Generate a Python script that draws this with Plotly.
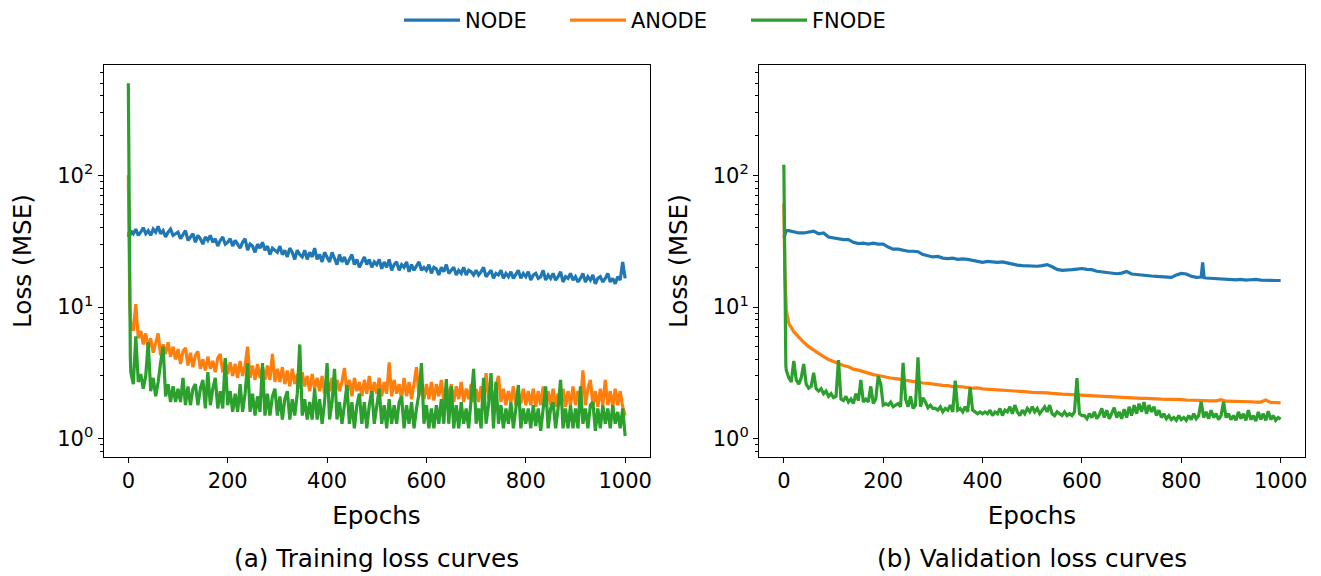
import plotly.graph_objects as go

# ---------------- data ----------------
train_epochs = [0, 1, 2, 3, 4] + list(range(5, 1001, 5))

train_node = [34, 37, 36, 38, 35,
    38, 36, 39, 35, 37, 40, 36, 38, 35, 39, 37, 41, 36, 38, 34, 37, 39, 35, 36, 37,
    33, 35, 38, 32, 34, 36, 31, 35, 33, 30, 34, 32, 35, 31, 33, 29, 32, 34, 30, 31,
    33, 29, 32, 30, 28, 31, 33, 27, 30, 29, 26, 30, 28, 31, 27, 29, 25, 28, 27, 26,
    29, 25, 27, 24, 28, 26, 23, 27, 25, 24, 27, 23, 26, 24, 28, 23, 25, 22, 26, 24,
    22, 26, 23, 21, 25, 22, 24, 21, 23, 25, 21, 23, 20, 22, 24, 21, 23, 20, 22, 21,
    23, 19.5, 22, 20, 23, 19, 21, 22, 19, 21, 20, 22, 18.5, 21, 19, 20.5, 22, 19, 20, 19,
    21, 18, 20, 19.5, 17.5, 20, 18.5, 21, 18, 19, 20, 17.5, 19, 18, 20, 17.5, 19, 18.5, 17.5, 19,
    17.5, 18.5, 20, 17, 18, 19, 16.5, 18, 17.5, 19, 16.5, 18, 17, 18.5, 16.5, 17.5, 19, 16.5, 18, 17,
    18.5, 16, 17.5, 18, 16.5, 17, 19, 16, 17.5, 16.5, 18, 16, 17, 18.5, 15.5, 17, 16.5, 18, 16, 17,
    15.5, 16.5, 18, 15.5, 17, 16, 17.5, 15, 16.5, 17, 15.5, 16.5, 18, 15.5, 16.5, 15, 17, 16, 22, 16.5]

train_anode = [100, 28, 14, 10, 8.5,
    7.5, 6.6, 10.5, 5.8, 6.6, 5.2, 6.3, 4.8, 5.8, 4.5, 5.5, 6.3, 4.3, 5.2, 4.4, 5.4, 4.2, 5.0, 4.0, 4.8,
    3.7, 4.6, 4.9, 3.6, 4.5, 3.5, 4.3, 4.6, 3.4, 4.0, 3.3, 4.2, 3.4, 3.9, 3.2, 4.1, 4.4, 3.2, 3.9, 3.1,
    3.8, 3.0, 3.7, 2.9, 3.9, 3.0, 3.6, 5.0, 2.9, 3.6, 2.8, 3.7, 2.9, 3.5, 2.8, 3.6, 2.8, 4.4, 2.7, 3.4,
    2.7, 3.5, 2.6, 3.3, 2.5, 3.4, 2.6, 3.1, 2.4, 3.2, 2.5, 3.0, 2.3, 3.1, 2.4, 2.9, 2.3, 3.0, 2.2, 2.8,
    2.3, 2.9, 2.2, 2.8, 2.3, 2.7, 3.45, 2.2, 2.8, 2.1, 2.9, 2.3, 2.7, 2.1, 2.8, 2.2, 3.0, 2.1, 2.7, 2.2,
    2.9, 2.1, 2.7, 2.2, 3.8, 2.1, 2.8, 2.2, 2.6, 2.0, 2.9, 2.1, 2.7, 2.0, 2.6, 3.5, 2.1, 2.7, 2.0, 2.6,
    2.0, 2.7, 1.95, 2.6, 2.1, 2.8, 1.9, 2.5, 2.0, 2.6, 1.9, 2.5, 2.0, 2.7, 1.9, 2.4, 2.0, 2.6, 1.9, 2.4,
    1.9, 2.5, 1.85, 3.15, 2.0, 2.4, 1.85, 2.5, 3.0, 1.9, 2.4, 1.8, 2.3, 1.9, 2.5, 1.8, 2.3, 1.85, 2.4, 1.8,
    2.3, 1.8, 2.4, 1.75, 2.3, 1.8, 2.5, 1.75, 2.3, 1.8, 2.4, 1.75, 2.2, 1.8, 2.4, 1.75, 2.3, 1.8, 2.5, 1.8,
    2.3, 1.8, 3.3, 1.8, 2.4, 2.8, 1.8, 2.3, 1.75, 2.4, 1.8, 2.8, 1.8, 2.3, 1.75, 2.4, 1.8, 2.3, 1.75, 1.5]

train_fnode = [500, 80, 18, 7, 4.2,
    3.2, 2.6, 6.0, 2.7, 3.1, 2.4, 3.0, 5.4, 2.3, 2.9, 2.1, 2.7, 3.8, 5.0, 2.1, 2.6, 1.9, 2.5, 1.9, 2.4,
    1.9, 2.9, 1.8, 2.5, 1.8, 2.4, 2.6, 1.8, 2.4, 2.8, 1.7, 3.2, 1.8, 2.4, 2.9, 1.7, 2.3, 1.7, 4.1, 1.8,
    2.3, 1.6, 2.2, 1.6, 2.6, 1.6, 2.2, 3.75, 1.6, 2.2, 1.5, 2.1, 1.6, 3.75, 1.5, 2.2, 1.5, 2.1, 2.4, 1.5,
    2.1, 1.4, 2.0, 2.3, 1.4, 2.0, 1.5, 2.2, 5.2, 1.5, 2.0, 1.4, 1.9, 1.4, 2.4, 1.4, 2.0, 1.3, 1.9, 3.75,
    1.4, 1.9, 3.4, 1.4, 1.9, 1.3, 1.8, 2.56, 1.3, 1.9, 1.2, 1.8, 2.2, 1.3, 1.9, 1.2, 1.8, 2.3, 1.3, 1.8,
    2.4, 1.3, 1.8, 1.2, 2.0, 1.3, 1.8, 1.3, 1.9, 2.1, 1.2, 1.8, 1.3, 1.9, 1.2, 1.7, 2.2, 3.75, 1.3, 1.8,
    1.2, 1.7, 1.2, 1.8, 1.3, 2.0, 1.3, 2.84, 1.3, 2.5, 1.2, 1.8, 1.2, 1.9, 1.3, 1.7, 1.2, 2.0, 3.4, 1.3,
    1.7, 1.2, 2.9, 1.3, 1.8, 3.15, 1.2, 2.7, 1.3, 1.8, 1.2, 1.7, 1.3, 1.9, 1.2, 1.7, 2.56, 1.2, 1.7, 1.3,
    1.7, 1.2, 1.8, 1.25, 1.7, 1.15, 1.8, 2.5, 1.2, 1.7, 1.9, 1.2, 1.7, 2.8, 1.2, 1.7, 1.2, 1.8, 1.2, 1.7,
    1.2, 2.5, 1.3, 1.7, 1.2, 1.8, 1.9, 1.15, 1.7, 1.2, 1.8, 1.3, 1.7, 1.2, 1.8, 1.3, 1.6, 1.2, 1.7, 1.05]

val_node_epochs = [0, 2, 5] + list(range(10, 841, 10)) + [843, 846] + list(range(850, 1001, 10))
val_node = [33.6, 36, 38,
    38, 37, 36.5, 36.5, 37, 37.7, 36, 36.5, 34, 33.5,
    33, 32.5, 32.5, 31, 30.3, 30.5, 30, 30.5, 30, 30,
    28.5, 27.5, 27.5, 27, 26.5, 26.5, 26.3, 25, 24.5, 24,
    24.2, 23.5, 23.3, 23.5, 23, 23.2, 23, 22.5, 22, 21.8,
    22.2, 22, 21.8, 22, 21.5, 21, 20.8, 20.6, 20.5, 20.5,
    20.4, 20.6, 21, 20.2, 19.3, 19, 19, 19.2, 19.4, 19.6,
    19.3, 19.2, 18.7, 18.5, 18.4, 18.2, 17.9, 18.1, 18.6, 17.8,
    17.6, 17.4, 17.3, 17.2, 17.1, 17.0, 17.1, 16.8, 17.5, 18,
    17.8, 17.1, 16.8, 16.9,
    21.8, 16.7,
    16.6, 16.5, 16.4, 16.3, 16.4, 16.2, 16.1, 16.2, 16.0, 16.1, 16.2, 16.0, 15.9, 15.8, 15.9, 15.9]

val_anode_epochs = [0, 2, 5] + list(range(10, 1001, 10))
val_anode = [61, 18, 9.5,
    7.5, 6.5, 5.9, 5.4, 5.0, 4.7, 4.45, 4.2, 4.0, 3.85,
    3.72, 3.6, 3.52, 3.38, 3.32, 3.22, 3.16, 3.07, 3.02, 2.96,
    2.93, 2.87, 2.85, 2.78, 2.76, 2.71, 2.69, 2.65, 2.63, 2.59,
    2.58, 2.54, 2.53, 2.49, 2.5, 2.46, 2.45, 2.42, 2.43, 2.39,
    2.38, 2.37, 2.34, 2.35, 2.31, 2.31, 2.29, 2.28, 2.27, 2.25,
    2.25, 2.23, 2.23, 2.21, 2.21, 2.18, 2.17, 2.16, 2.14, 2.12,
    2.12, 2.11, 2.1, 2.09, 2.1, 2.07, 2.07, 2.06, 2.05, 2.05,
    2.04, 2.03, 2.03, 2.01, 2.01, 2.0, 2.0, 1.98, 1.98, 1.98,
    1.97, 1.96, 1.96, 1.95, 1.95, 1.94, 1.94, 1.98, 1.93, 1.93,
    1.92, 1.92, 1.91, 1.91, 1.9, 1.9, 1.97, 1.89, 1.88, 1.87]

val_fnode_epochs = [0, 1, 2, 3, 4] + list(range(5, 1001, 5))
val_fnode = [120, 30, 8, 4.5, 3.6,
    3.3, 2.9, 2.7, 3.9, 2.8, 2.6, 2.9, 3.7, 2.6, 2.42, 2.5, 3.17, 2.4, 2.3, 2.4, 2.2, 2.3, 2.1, 2.2, 2.05,
    2.1, 3.95, 2.0, 1.95, 2.1, 1.9, 2.0, 1.85, 2.2, 1.95, 2.8, 1.9, 2.0, 1.9, 2.5, 1.85, 2.0, 3.0, 2.6, 1.8,
    1.85, 1.8, 1.9, 1.75, 1.8, 1.85, 1.75, 3.77, 2.0, 1.75, 2.1, 1.7, 1.8, 4.16, 1.75, 2.05, 1.9, 1.72, 1.8, 1.7,
    1.7, 1.65, 1.75, 1.6, 1.7, 1.65, 1.8, 1.6, 2.76, 1.65, 1.7, 1.6, 1.75, 1.6, 2.47, 1.65, 1.6, 1.55, 1.6, 1.55,
    1.6, 1.55, 1.65, 1.5, 1.6, 1.55, 1.7, 1.5, 1.65, 1.6, 1.75, 1.55, 1.8, 1.6, 1.5, 1.65, 1.55, 1.7, 1.6, 1.75,
    1.6, 1.7, 1.55, 1.65, 1.75, 1.6, 1.8, 1.55, 1.5, 1.6, 1.55, 1.5, 1.6, 1.5, 1.55, 1.5, 1.6, 2.89, 1.55, 1.5,
    1.5, 1.42, 1.55, 1.45, 1.6, 1.42, 1.52, 1.7, 1.45, 1.65, 1.42, 1.55, 1.72, 1.45, 1.6, 1.42, 1.68, 1.45, 1.75, 1.5,
    1.8, 1.55, 1.85, 1.6, 1.9, 1.55, 1.8, 1.6, 1.75, 1.5, 1.65, 1.45, 1.55, 1.42, 1.5, 1.4, 1.45, 1.38, 1.5, 1.4,
    1.45, 1.38, 1.5, 1.4, 1.55, 1.42, 1.5, 1.91, 1.45, 1.6, 1.42, 1.65, 1.45, 1.55, 1.4, 1.5, 1.91, 1.45, 1.55, 1.4,
    1.5, 1.38, 1.6, 1.42, 1.55, 1.38, 1.65, 1.4, 1.5, 1.36, 1.6, 1.4, 1.55, 1.38, 1.62, 1.4, 1.5, 1.38, 1.45, 1.41]

assert len(train_node) == len(train_epochs)
assert len(train_anode) == len(train_epochs)
assert len(train_fnode) == len(train_epochs)
assert len(val_node) == len(val_node_epochs)
assert len(val_anode) == len(val_anode_epochs)
assert len(val_fnode) == len(val_fnode_epochs)

series_names = ["NODE", "ANODE", "FNODE"]
colors = ["#1f77b4", "#ff7f0e", "#2ca02c"]
x_tick_vals = [0, 200, 400, 600, 800, 1000]
y_tick_vals = [1, 10, 100]
y_tick_text = ["10<sup>0</sup>", "10<sup>1</sup>", "10<sup>2</sup>"]
y_minor_vals = [0.8, 0.9, 2, 3, 4, 5, 6, 7, 8, 9, 20, 30, 40, 50, 60, 70, 80, 90,
                200, 300, 400, 500, 600]
captions = ["(a) Training loss curves", "(b) Validation loss curves"]

FONT = "DejaVu Sans"
LW = 3.2

fig = go.Figure()
train = [(train_epochs, train_node), (train_epochs, train_anode), (train_epochs, train_fnode)]
val = [(val_node_epochs, val_node), (val_anode_epochs, val_anode), (val_fnode_epochs, val_fnode)]
legend_ids = ["legend", "legend2", "legend3"]

for i, (ex, ey) in enumerate(train):
    fig.add_trace(go.Scatter(x=ex, y=ey, mode="lines", name=series_names[i],
                             line=dict(color=colors[i], width=LW),
                             xaxis="x", yaxis="y", legend=legend_ids[i], showlegend=True))
for i, (ex, ey) in enumerate(val):
    fig.add_trace(go.Scatter(x=ex, y=ey, mode="lines", name=series_names[i],
                             line=dict(color=colors[i], width=LW),
                             xaxis="x2", yaxis="y2", showlegend=False))

W, H = 1321, 576
left1, right1 = 103.5, 649.5
left2, right2 = 759, 1305
top, bottom = 64.5, 456.5

xcommon = dict(range=[-50, 1049], tickvals=x_tick_vals, ticks="outside", ticklen=5, tickwidth=1,
               tickcolor="black", showline=True, linecolor="black", linewidth=1, mirror=True,
               showgrid=False, zeroline=False, tickfont=dict(size=21, color="black", family=FONT),
               title=dict(text="Epochs", font=dict(size=24.7, color="black", family=FONT), standoff=14),
               automargin=False)
ycommon = dict(type="log", range=[-0.136, 2.834], tickvals=y_tick_vals, ticktext=y_tick_text,
               ticks="outside", ticklen=5, tickwidth=1, tickcolor="black",
               minor=dict(tickvals=y_minor_vals, ticks="outside", ticklen=3, tickwidth=0.8, tickcolor="black"),
               showline=True, linecolor="black", linewidth=1, mirror=True,
               showgrid=False, zeroline=False, tickfont=dict(size=21, color="black", family=FONT),
               title=dict(text="Loss (MSE)", font=dict(size=24.7, color="black", family=FONT), standoff=18),
               automargin=False)

ydom = [1 - bottom / H, 1 - top / H]
fig.update_layout(
    width=W, height=H, margin=dict(l=0, r=0, t=0, b=0),
    paper_bgcolor="white", plot_bgcolor="white",
    font=dict(family=FONT, color="black"),
    xaxis=dict(domain=[left1 / W, right1 / W], anchor="y", **xcommon),
    yaxis=dict(domain=ydom, anchor="x", **ycommon),
    xaxis2=dict(domain=[left2 / W, right2 / W], anchor="y2", **xcommon),
    yaxis2=dict(domain=ydom, anchor="x2", **ycommon),
)

leg_x = [399, 565, 746]
for lid, lx in zip(legend_ids, leg_x):
    fig.update_layout({lid: dict(x=lx / W, y=1 - 20 / H, xanchor="left", yanchor="middle",
                                 orientation="h", itemwidth=56, bgcolor="rgba(0,0,0,0)",
                                 font=dict(size=21, color="black", family=FONT))})

for cap, cx in zip(captions, [(left1 + right1) / 2, (left2 + right2) / 2]):
    fig.add_annotation(text=cap, x=cx / W, y=1 - 558 / H, xref="paper", yref="paper",
                       xanchor="center", yanchor="middle", showarrow=False,
                       font=dict(size=24.7, color="black", family=FONT))

fig.write_html("out.html")
